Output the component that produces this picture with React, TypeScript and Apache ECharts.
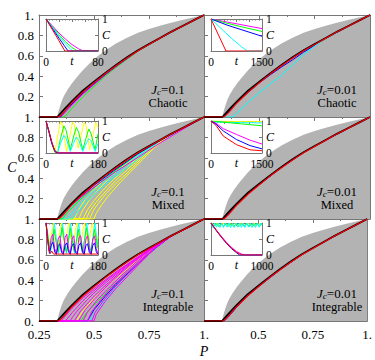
import React, { useEffect, useRef } from 'react';
import * as echarts from 'echarts';

type Pt = [number, number];

const FONT = 'Liberation Serif';
const FRAME = '#777777';
const GRAY = '#B3B3B3';
const RED = '#FF0000';
const BLACK = '#000000';
const BLUE = '#0000FF';
const CYAN = '#00FFFF';
const MAGENTA = '#FF00FF';
const GREEN = '#00FF00';
const YELLOW = '#FFFF00';

// ---- tick labels / texts ----
const J_LABELS = ['0.1', '0.01', '0.1', '0.01', '0.1', '0.01'];
const REGIMES = ['Chaotic', 'Chaotic', 'Mixed', 'Mixed', 'Integrable', 'Integrable'];
const INSET_TMAX = [80, 1500, 180, 1500, 180, 1000];

// ---- shared main-panel curves (P, C) ----
const grayBoundary: Pt[] = [[0.3333, 0], [0.335, 0.025], [0.3375, 0.045], [0.34, 0.065], [0.345, 0.1], [0.35, 0.135], [0.355, 0.163], [0.36, 0.19], [0.3675, 0.222], [0.375, 0.25], [0.3825, 0.276], [0.39, 0.3], [0.4, 0.33], [0.42, 0.385], [0.45, 0.46], [0.475, 0.515], [0.5, 0.565], [0.525, 0.61], [0.55, 0.65], [0.575, 0.687], [0.6, 0.72], [0.65, 0.778], [0.7, 0.825], [0.75, 0.863], [0.8, 0.895], [0.85, 0.923], [0.9, 0.95], [0.95, 0.975], [1, 1]];
const blackCurve: Pt[] = [[0.25, 0], [0.333, 0], [0.35, 0.04], [0.375, 0.1], [0.4, 0.155], [0.45, 0.26], [0.5, 0.345], [0.55, 0.43], [0.6, 0.51], [0.65, 0.585], [0.7, 0.655], [0.75, 0.715], [0.8, 0.775], [0.85, 0.835], [0.9, 0.89], [0.95, 0.945], [1, 1]];
const redCurve: Pt[] = [[0.25, 0], [0.34, 0], [0.36, 0.04], [0.4, 0.14], [0.45, 0.245], [0.5, 0.335], [0.55, 0.423], [0.6, 0.503], [0.65, 0.578], [0.7, 0.65], [0.75, 0.711], [0.8, 0.772], [0.85, 0.833], [0.9, 0.888], [0.95, 0.944], [1, 1]];

// ---- panel A: chaotic, Jc = 0.1 ----
const aCyan: Pt[] = [[0.25, 0], [0.342, 0], [0.36, 0.04], [0.4, 0.14], [0.45, 0.245], [0.5, 0.335], [0.55, 0.422], [0.6, 0.503], [0.7, 0.652], [0.8, 0.773], [0.9, 0.889], [1, 1]];
const aBlue: Pt[] = [[0.25, 0], [0.345, 0], [0.37, 0.06], [0.4, 0.128], [0.45, 0.235], [0.5, 0.327], [0.55, 0.416], [0.6, 0.498], [0.7, 0.65], [0.8, 0.772], [0.9, 0.888], [1, 1]];
const aMagenta: Pt[] = [[0.25, 0], [0.35, 0], [0.375, 0.06], [0.4, 0.115], [0.45, 0.225], [0.5, 0.318], [0.55, 0.41], [0.6, 0.494], [0.7, 0.648], [0.8, 0.771], [0.9, 0.888], [1, 1]];
const aGreen: Pt[] = [[0.25, 0], [0.365, 0], [0.38, 0.035], [0.4, 0.085], [0.45, 0.2], [0.5, 0.3], [0.55, 0.398], [0.6, 0.486], [0.7, 0.645], [0.8, 0.77], [0.9, 0.887], [1, 1]];

// ---- panel B: chaotic, Jc = 0.01 ----
const bCyan: Pt[] = [[0.25, 0], [0.382, 0], [0.4, 0.04], [0.45, 0.145], [0.5, 0.24], [0.55, 0.325], [0.6, 0.41], [0.65, 0.51], [0.7, 0.61], [0.75, 0.695], [0.8, 0.77], [0.9, 0.887], [1, 1]];
const bBlue: Pt[] = [[0.25, 0], [0.338, 0], [0.4, 0.148], [0.5, 0.335], [0.55, 0.415], [0.6, 0.49], [0.65, 0.56], [0.7, 0.635], [0.8, 0.771], [0.9, 0.888], [1, 1]];
const bGreen: Pt[] = [[0.25, 0], [0.336, 0], [0.4, 0.152], [0.5, 0.342], [0.6, 0.508], [0.7, 0.653], [0.8, 0.774], [0.9, 0.889], [1, 1]];
const bMagenta: Pt[] = [[0.25, 0], [0.335, 0], [0.4, 0.154], [0.5, 0.344], [0.6, 0.51], [0.7, 0.654], [0.8, 0.775], [0.9, 0.89], [1, 1]];

// ---- panel C: mixed, Jc = 0.1 ----
const cYellow1: Pt[] = [[0.25, 0], [0.41, 0], [0.43, 0.09], [0.46, 0.19], [0.5, 0.29], [0.55, 0.39], [0.6, 0.48], [0.65, 0.565], [0.7, 0.64], [0.8, 0.771], [0.9, 0.888], [1, 1]];
const cYellow2: Pt[] = [[0.25, 0], [0.43, 0], [0.45, 0.09], [0.48, 0.19], [0.52, 0.29], [0.57, 0.4], [0.62, 0.5], [0.67, 0.58], [0.72, 0.66], [0.8, 0.77], [0.9, 0.888], [1, 1]];
const cYellow3: Pt[] = [[0.25, 0], [0.45, 0], [0.47, 0.09], [0.5, 0.18], [0.54, 0.28], [0.59, 0.39], [0.64, 0.49], [0.69, 0.58], [0.74, 0.675], [0.8, 0.769], [0.9, 0.887], [1, 1]];
const cYellow4: Pt[] = [[0.25, 0], [0.465, 0], [0.48, 0.075], [0.51, 0.165], [0.55, 0.265], [0.6, 0.38], [0.65, 0.48], [0.7, 0.58], [0.75, 0.68], [0.8, 0.767], [0.9, 0.887], [1, 1]];
const cYellow5: Pt[] = [[0.25, 0], [0.48, 0], [0.495, 0.075], [0.52, 0.155], [0.56, 0.26], [0.61, 0.37], [0.66, 0.47], [0.71, 0.58], [0.76, 0.685], [0.82, 0.79], [0.9, 0.886], [1, 1]];
const cYellow6: Pt[] = [[0.25, 0], [0.5, 0], [0.51, 0.055], [0.535, 0.14], [0.57, 0.24], [0.62, 0.36], [0.67, 0.47], [0.72, 0.58], [0.77, 0.69], [0.83, 0.8], [0.9, 0.886], [1, 1]];
const cCyan1: Pt[] = [[0.25, 0], [0.36, 0], [0.38, 0.065], [0.4, 0.12], [0.45, 0.225], [0.5, 0.31], [0.55, 0.4], [0.6, 0.48], [0.65, 0.555], [0.7, 0.63], [0.8, 0.77], [0.9, 0.888], [1, 1]];
const cCyan2: Pt[] = [[0.25, 0], [0.38, 0], [0.4, 0.055], [0.44, 0.155], [0.49, 0.26], [0.54, 0.355], [0.6, 0.45], [0.66, 0.55], [0.72, 0.645], [0.8, 0.769], [0.9, 0.888], [1, 1]];
const cCyan3: Pt[] = [[0.25, 0], [0.4, 0], [0.42, 0.055], [0.46, 0.155], [0.51, 0.26], [0.56, 0.355], [0.62, 0.455], [0.68, 0.555], [0.74, 0.655], [0.8, 0.767], [0.9, 0.887], [1, 1]];
const cGreen1: Pt[] = [[0.25, 0], [0.338, 0], [0.4, 0.15], [0.45, 0.255], [0.5, 0.34], [0.55, 0.425], [0.6, 0.505], [0.7, 0.652], [0.8, 0.774], [0.9, 0.889], [1, 1]];
const cGreen2: Pt[] = [[0.25, 0], [0.355, 0], [0.38, 0.065], [0.4, 0.11], [0.45, 0.215], [0.5, 0.305], [0.55, 0.395], [0.6, 0.478], [0.7, 0.64], [0.8, 0.77], [0.9, 0.887], [1, 1]];
const cMagenta: Pt[] = [[0.25, 0], [0.337, 0], [0.4, 0.14], [0.45, 0.23], [0.5, 0.31], [0.55, 0.39], [0.6, 0.465], [0.65, 0.535], [0.7, 0.605], [0.75, 0.675], [0.8, 0.745], [0.9, 0.875], [1, 1]];
const cBlue: Pt[] = [[0.25, 0], [0.336, 0], [0.4, 0.148], [0.5, 0.33], [0.6, 0.49], [0.7, 0.64], [0.8, 0.768], [0.9, 0.887], [1, 1]];

// ---- panel D: mixed, Jc = 0.01 ----
const dBlue: Pt[] = [[0.25, 0], [0.337, 0], [0.36, 0.05], [0.4, 0.145], [0.45, 0.25], [0.5, 0.337], [0.6, 0.505], [0.7, 0.652], [0.8, 0.774], [0.9, 0.889], [1, 1]];
const dMagenta: Pt[] = [[0.25, 0], [0.336, 0], [0.4, 0.152], [0.5, 0.342], [0.6, 0.508], [0.7, 0.653], [0.8, 0.774], [0.9, 0.889], [1, 1]];

// ---- panel E: integrable, Jc = 0.1 ----
const eYellow: Pt[] = [[0.25, 0], [0.42, 0], [0.45, 0.1], [0.5, 0.22], [0.56, 0.345], [0.63, 0.475], [0.7, 0.6], [0.77, 0.71], [0.85, 0.83], [0.9, 0.887], [1, 1]];
const eGreen: Pt[] = [[0.25, 0], [0.44, 0], [0.47, 0.09], [0.52, 0.2], [0.58, 0.335], [0.65, 0.475], [0.72, 0.61], [0.78, 0.72], [0.85, 0.83], [0.9, 0.887], [1, 1]];
const eCyan: Pt[] = [[0.25, 0], [0.48, 0], [0.5, 0.07], [0.55, 0.2], [0.61, 0.36], [0.68, 0.52], [0.75, 0.66], [0.8, 0.755], [0.85, 0.83], [0.9, 0.887], [1, 1]];
const eBlue: Pt[] = [[0.25, 0], [0.47, 0], [0.5, 0.11], [0.55, 0.24], [0.6, 0.36], [0.66, 0.48], [0.72, 0.6], [0.78, 0.715], [0.85, 0.83], [0.9, 0.887], [1, 1]];
const eMagenta1: Pt[] = [[0.25, 0], [0.35, 0], [0.4, 0.125], [0.45, 0.228], [0.5, 0.315], [0.55, 0.4], [0.6, 0.48], [0.65, 0.555], [0.7, 0.628], [0.75, 0.7], [0.85, 0.83], [0.9, 0.887], [1, 1]];
const eMagenta2: Pt[] = [[0.25, 0], [0.37, 0], [0.4, 0.08], [0.45, 0.2], [0.5, 0.298], [0.55, 0.388], [0.6, 0.47], [0.65, 0.55], [0.7, 0.623], [0.75, 0.697], [0.85, 0.83], [0.9, 0.887], [1, 1]];
const eMagenta3: Pt[] = [[0.25, 0], [0.39, 0], [0.42, 0.09], [0.47, 0.21], [0.52, 0.315], [0.57, 0.405], [0.62, 0.49], [0.68, 0.595], [0.75, 0.695], [0.85, 0.83], [0.9, 0.887], [1, 1]];
const eMagenta4: Pt[] = [[0.25, 0], [0.41, 0], [0.44, 0.1], [0.49, 0.22], [0.54, 0.325], [0.6, 0.44], [0.66, 0.55], [0.75, 0.693], [0.85, 0.83], [0.9, 0.887], [1, 1]];
const eMagenta5: Pt[] = [[0.25, 0], [0.43, 0], [0.46, 0.11], [0.5, 0.21], [0.55, 0.325], [0.61, 0.445], [0.68, 0.575], [0.75, 0.69], [0.85, 0.83], [0.9, 0.887], [1, 1]];
const eMagenta6: Pt[] = [[0.25, 0], [0.45, 0], [0.47, 0.085], [0.51, 0.195], [0.56, 0.31], [0.62, 0.435], [0.69, 0.575], [0.76, 0.7], [0.85, 0.83], [0.9, 0.887], [1, 1]];
const eMagenta7: Pt[] = [[0.25, 0], [0.47, 0], [0.49, 0.095], [0.53, 0.205], [0.58, 0.33], [0.64, 0.455], [0.7, 0.575], [0.77, 0.71], [0.85, 0.83], [0.9, 0.887], [1, 1]];
const eMagenta8: Pt[] = [[0.25, 0], [0.49, 0], [0.505, 0.085], [0.54, 0.19], [0.59, 0.32], [0.65, 0.455], [0.71, 0.58], [0.78, 0.72], [0.85, 0.83], [0.9, 0.887], [1, 1]];
const eMagenta9: Pt[] = [[0.25, 0], [0.5, 0], [0.51, 0.065], [0.55, 0.19], [0.6, 0.32], [0.66, 0.455], [0.72, 0.59], [0.78, 0.72], [0.85, 0.83], [0.9, 0.887], [1, 1]];

// ---- panel F: integrable, Jc = 0.01 ----
const fBlue: Pt[] = [[0.25, 0], [0.342, 0], [0.36, 0.035], [0.4, 0.135], [0.45, 0.245], [0.5, 0.335], [0.6, 0.502], [0.7, 0.651], [0.8, 0.773], [0.9, 0.889], [1, 1]];
const fMagenta: Pt[] = [[0.25, 0], [0.338, 0], [0.4, 0.148], [0.5, 0.34], [0.6, 0.506], [0.7, 0.652], [0.8, 0.774], [0.9, 0.889], [1, 1]];

// ---- insets (t, C) ----
const iaMagenta: Pt[] = [[0, 1], [10, 0.78], [20, 0.56], [30, 0.37], [40, 0.2], [50, 0.07], [57, 0], [80, 0]];
const iaGreen: Pt[] = [[0, 1], [10, 0.75], [20, 0.51], [30, 0.29], [40, 0.11], [47, 0.02], [50, 0], [80, 0]];
const iaCyan: Pt[] = [[0, 1], [10, 0.73], [20, 0.46], [30, 0.22], [38, 0.05], [42, 0], [80, 0]];
const iaBlue: Pt[] = [[0, 1], [10, 0.7], [20, 0.4], [28, 0.17], [34, 0], [80, 0]];
const iaRed: Pt[] = [[0, 1], [10, 0.66], [20, 0.32], [29, 0], [80, 0]];

const ibMagenta: Pt[] = [[0, 1], [500, 0.9], [1000, 0.8], [1500, 0.7]];
const ibGreen: Pt[] = [[0, 1], [500, 0.86], [1000, 0.73], [1500, 0.61]];
const ibBlue: Pt[] = [[0, 1], [500, 0.8], [1000, 0.63], [1500, 0.46]];
const ibCyan: Pt[] = [[0, 1], [300, 0.7], [600, 0.4], [900, 0.13], [1070, 0], [1500, 0]];
const ibRed: Pt[] = [[0, 1], [440, 0], [1500, 0]];

const icYellow: Pt[] = [[0, 1], [10, 0.7], [20, 0.33], [30, 0], [40, 0.5], [50, 0.97], [55, 0.95], [63, 0.5], [71, 0.05], [80, 0.4], [92, 0.97], [98, 0.9], [105, 0.5], [111, 0.15], [120, 0.5], [132, 0.95], [138, 0.9], [145, 0.5], [151, 0.1], [160, 0.45], [172, 0.95], [180, 0.8]];
const icGreen: Pt[] = [[0, 1], [10, 0.68], [20, 0.32], [30, 0.05], [40, 0], [50, 0.45], [62, 0.85], [70, 0.7], [84, 0.1], [95, 0.5], [105, 0.8], [113, 0.65], [127, 0.1], [138, 0.45], [148, 0.75], [156, 0.6], [170, 0.1], [180, 0.6]];
const icCyan: Pt[] = [[0, 1], [10, 0.68], [20, 0.32], [30, 0.05], [40, 0], [50, 0.3], [62, 0.55], [70, 0.45], [84, 0.05], [95, 0.3], [105, 0.5], [113, 0.4], [127, 0.05], [138, 0.28], [148, 0.45], [156, 0.38], [170, 0.05], [180, 0.3]];
const icMagenta: Pt[] = [[0, 1], [10, 0.68], [20, 0.32], [30, 0.07], [40, 0], [180, 0]];
const icBlue: Pt[] = [[0, 1], [10, 0.67], [20, 0.3], [32, 0.03], [40, 0], [180, 0]];
const icRed: Pt[] = [[0, 1], [10, 0.68], [20, 0.35], [30, 0.08], [42, 0], [180, 0]];

const idYellow: Pt[] = [[0, 1], [500, 0.99], [1000, 0.98], [1500, 0.98]];
const idCyan: Pt[] = [[0, 1], [150, 0.96], [300, 0.97], [450, 0.95], [600, 0.96], [750, 0.95], [900, 0.96], [1050, 0.94], [1200, 0.95], [1350, 0.94], [1500, 0.94]];
const idGreen: Pt[] = [[0, 1], [300, 0.97], [600, 0.94], [900, 0.91], [1200, 0.88], [1500, 0.85]];
const idMagenta: Pt[] = [[0, 1], [150, 0.93], [360, 0.76], [750, 0.58], [1150, 0.4], [1500, 0.28]];
const idBlue: Pt[] = [[0, 1], [150, 0.9], [360, 0.69], [750, 0.42], [1150, 0.23], [1500, 0.13]];
const idRed: Pt[] = [[0, 1], [150, 0.86], [360, 0.53], [750, 0.26], [1150, 0.1], [1500, 0.07]];

const ieYellow: Pt[] = [[0, 1], [8, 0.6], [14, 0.3], [20, 0.7], [26, 1], [33, 0.5], [40, 0.2], [47, 0.7], [53, 1], [60, 0.55], [67, 0.3], [74, 0.8], [80, 1], [87, 0.5], [94, 0.25], [101, 0.75], [107, 1], [114, 0.5], [121, 0.3], [128, 0.8], [134, 1], [141, 0.5], [148, 0.3], [155, 0.8], [161, 1], [168, 0.5], [175, 0.3], [180, 0.6]];
const ieCyan: Pt[] = [[0, 1], [8, 0.5], [15, 0.05], [22, 0.5], [29, 1], [36, 0.5], [43, 0.05], [50, 0.5], [57, 1], [64, 0.45], [71, 0.05], [78, 0.5], [85, 1], [92, 0.5], [99, 0.05], [106, 0.5], [113, 1], [120, 0.5], [127, 0.05], [134, 0.5], [141, 1], [148, 0.5], [155, 0.05], [162, 0.5], [169, 1], [176, 0.5], [180, 0.3]];
const ieGreen: Pt[] = [[0, 1], [7, 0.55], [14, 0.15], [21, 0.4], [28, 0.8], [35, 0.4], [42, 0.1], [49, 0.45], [56, 0.85], [63, 0.45], [70, 0.1], [77, 0.4], [84, 0.85], [91, 0.45], [98, 0.1], [105, 0.4], [112, 0.8], [119, 0.4], [126, 0.1], [133, 0.45], [140, 0.85], [147, 0.45], [154, 0.1], [161, 0.4], [168, 0.8], [175, 0.4], [180, 0.2]];
const ieMagenta: Pt[] = [[0, 1], [6, 0.5], [12, 0.1], [18, 0.55], [24, 0.65], [30, 0.2], [36, 0.05], [42, 0.5], [48, 0.6], [54, 0.15], [60, 0.05], [66, 0.55], [72, 0.65], [78, 0.2], [84, 0.05], [90, 0.5], [96, 0.6], [102, 0.15], [108, 0.05], [114, 0.55], [120, 0.6], [126, 0.2], [132, 0.05], [138, 0.5], [144, 0.6], [150, 0.15], [156, 0.05], [162, 0.5], [168, 0.6], [174, 0.2], [180, 0.05]];
const ieBlue: Pt[] = [[0, 1], [6, 0.45], [12, 0.05], [18, 0.3], [24, 0.4], [30, 0.1], [36, 0.02], [42, 0.3], [48, 0.35], [54, 0.08], [60, 0.02], [66, 0.3], [72, 0.38], [78, 0.1], [84, 0.02], [90, 0.3], [96, 0.35], [102, 0.08], [108, 0.02], [114, 0.3], [120, 0.38], [126, 0.1], [132, 0.02], [138, 0.3], [144, 0.35], [150, 0.08], [156, 0.02], [162, 0.3], [168, 0.38], [174, 0.1], [180, 0.02]];
const ieRed: Pt[] = [[0, 1], [5, 0.55], [10, 0.15], [15, 0.05], [20, 0.12], [26, 0.03], [180, 0.03]];

const ifCyan: Pt[] = [[0, 1], [35, 0.86], [70, 1], [105, 0.87], [140, 1], [175, 0.86], [210, 0.99], [245, 0.86], [280, 1], [315, 0.87], [350, 1], [385, 0.86], [420, 0.99], [455, 0.86], [490, 1], [525, 0.87], [560, 1], [595, 0.86], [630, 0.99], [665, 0.86], [700, 1], [735, 0.87], [770, 1], [805, 0.86], [840, 0.99], [875, 0.86], [910, 1], [945, 0.87], [980, 1], [1000, 0.93]];
const ifGreen: Pt[] = [[0, 1], [50, 0.9], [100, 0.98], [150, 0.89], [200, 0.97], [250, 0.9], [300, 0.98], [350, 0.89], [400, 0.97], [450, 0.9], [500, 0.98], [550, 0.89], [600, 0.97], [650, 0.9], [700, 0.98], [750, 0.89], [800, 0.97], [850, 0.9], [900, 0.98], [950, 0.89], [1000, 0.96]];
const ifYellow: Pt[] = [[0, 1], [60, 0.93], [120, 0.99], [180, 0.93], [240, 0.99], [300, 0.93], [360, 0.99], [420, 0.93], [480, 0.99], [540, 0.93], [600, 0.99], [660, 0.93], [720, 0.99], [780, 0.93], [840, 0.99], [900, 0.93], [960, 0.99], [1000, 0.95]];
const ifMagenta: Pt[] = [[0, 1], [100, 0.79], [200, 0.59], [300, 0.4], [400, 0.24], [500, 0.11], [600, 0.03], [660, 0], [1000, 0]];
const ifBlue: Pt[] = [[0, 1], [100, 0.77], [200, 0.56], [300, 0.37], [400, 0.2], [500, 0.07], [560, 0], [1000, 0]];
const ifRed: Pt[] = [[0, 1], [100, 0.78], [200, 0.57], [300, 0.38], [400, 0.22], [500, 0.09], [580, 0.01], [620, 0], [1000, 0]];

type Curve = [Pt[], string];
const PANEL_CURVES: Curve[][] = [
  [[aGreen, GREEN], [aMagenta, MAGENTA], [aBlue, BLUE], [aCyan, CYAN]],
  [[bMagenta, MAGENTA], [bGreen, GREEN], [bBlue, BLUE], [bCyan, CYAN]],
  [[cYellow1, YELLOW], [cYellow2, YELLOW], [cYellow3, YELLOW], [cYellow4, YELLOW], [cYellow5, YELLOW], [cYellow6, YELLOW], [cCyan1, CYAN], [cCyan2, CYAN], [cCyan3, CYAN], [cGreen2, GREEN], [cGreen1, GREEN], [cBlue, BLUE], [cMagenta, MAGENTA]],
  [[dBlue, BLUE], [dMagenta, MAGENTA]],
  [[eYellow, YELLOW], [eGreen, GREEN], [eCyan, CYAN], [eBlue, BLUE], [eMagenta9, MAGENTA], [eMagenta8, MAGENTA], [eMagenta7, MAGENTA], [eMagenta6, MAGENTA], [eMagenta5, MAGENTA], [eMagenta4, MAGENTA], [eMagenta3, MAGENTA], [eMagenta2, MAGENTA], [eMagenta1, MAGENTA]],
  [[fBlue, BLUE], [fMagenta, MAGENTA]],
];
const INSET_CURVES: Curve[][] = [
  [[iaMagenta, MAGENTA], [iaGreen, GREEN], [iaCyan, CYAN], [iaBlue, BLUE], [iaRed, RED]],
  [[ibMagenta, MAGENTA], [ibGreen, GREEN], [ibBlue, BLUE], [ibCyan, CYAN], [ibRed, RED]],
  [[icYellow, YELLOW], [icGreen, GREEN], [icCyan, CYAN], [icMagenta, MAGENTA], [icBlue, BLUE], [icRed, RED]],
  [[idYellow, YELLOW], [idCyan, CYAN], [idGreen, GREEN], [idMagenta, MAGENTA], [idBlue, BLUE], [idRed, RED]],
  [[ieYellow, YELLOW], [ieCyan, CYAN], [ieGreen, GREEN], [ieMagenta, MAGENTA], [ieBlue, BLUE], [ieRed, RED]],
  [[ifYellow, YELLOW], [ifGreen, GREEN], [ifCyan, CYAN], [ifMagenta, MAGENTA], [ifBlue, BLUE], [ifRed, RED]],
];

const ROW_TOP = [15, 117, 219];
const PANEL_H = 102;

function buildOption() {
  const grid: any[] = [];
  const xAxis: any[] = [];
  const yAxis: any[] = [];
  const series: any[] = [];
  const graphic: any[] = [];
  const lbl = { color: '#000', fontFamily: FONT, fontSize: 13, lineHeight: 13 };
  const ilbl = { color: '#000', fontFamily: FONT, fontSize: 11.5 };
  const lineS = { show: true, onZero: false, lineStyle: { color: FRAME, width: 1 } };
  const tickS = (len: number) => ({ show: true, inside: true, length: len, lineStyle: { color: FRAME, width: 1 } });
  const r2 = (v: number) => +Number(v).toFixed(3);
  const txt = (x: number, y: number, text: string, size: number, italic: boolean) => ({
    type: 'text', x, y, z: 10,
    style: { text, align: 'center', verticalAlign: 'middle', fontFamily: FONT, fontSize: size, fontStyle: italic ? 'italic' : 'normal', fill: '#000' },
  });

  for (let g = 0; g < 6; g++) {
    const r = Math.floor(g / 2);
    const c = g % 2;
    const left = c === 0 ? 39 : 204;
    const width = c === 0 ? 165 : 166;
    const top = ROW_TOP[r];
    grid.push({ left, top, width, height: PANEL_H, show: false });
    const gi = grid.length - 1;
    const xb = xAxis.length;
    xAxis.push({
      gridIndex: gi, type: 'value', min: 0.25, max: 1, interval: 0.25, position: 'bottom',
      axisLine: lineS, axisTick: tickS(4),
      minorTick: { show: true, splitNumber: 2, length: 2, lineStyle: { color: FRAME } },
      splitLine: { show: false },
      axisLabel: {
        show: r === 2, ...lbl, margin: 7,
        formatter: (v: number) => { const s = r2(v); if (c === 1 && s === 0.25) return ''; return s === 1 ? '1.' : String(s); },
      },
    });
    xAxis.push({
      gridIndex: gi, type: 'value', min: 0.25, max: 1, interval: 0.25, position: 'top',
      axisLine: lineS, axisTick: tickS(4),
      minorTick: { show: true, splitNumber: 2, length: 2, lineStyle: { color: FRAME } },
      splitLine: { show: false }, axisLabel: { show: false },
    });
    const yb = yAxis.length;
    yAxis.push({
      gridIndex: gi, type: 'value', min: 0, max: 1, interval: 0.2, position: 'left',
      axisLine: lineS, axisTick: tickS(4), splitLine: { show: false },
      axisLabel: {
        show: c === 0, ...lbl, margin: 5,
        formatter: (v: number) => { const s = r2(v); if (s === 1) return '1.'; if (s === 0) return r === 2 ? '0.' : ''; return String(s); },
      },
    });
    yAxis.push({
      gridIndex: gi, type: 'value', min: 0, max: 1, interval: 0.2, position: 'right',
      axisLine: lineS, axisTick: tickS(4), splitLine: { show: false }, axisLabel: { show: false },
    });

    series.push({
      type: 'line', xAxisIndex: xb, yAxisIndex: yb, data: grayBoundary, symbol: 'none', silent: true,
      lineStyle: { width: 0, color: GRAY }, areaStyle: { color: GRAY, opacity: 1 }, z: 1,
    });
    PANEL_CURVES[g].forEach(([data, color]) => {
      series.push({ type: 'line', xAxisIndex: xb, yAxisIndex: yb, data, symbol: 'none', silent: true, lineStyle: { width: 1, color }, z: 2 });
    });
    series.push({ type: 'line', xAxisIndex: xb, yAxisIndex: yb, data: blackCurve, symbol: 'none', silent: true, lineStyle: { width: 1.8, color: BLACK }, z: 3 });
    series.push({ type: 'line', xAxisIndex: xb, yAxisIndex: yb, data: redCurve, symbol: 'none', silent: true, lineStyle: { width: 1.2, color: RED }, z: 4 });

    // inset
    const T = INSET_TMAX[g];
    const ileft = c === 0 ? 46 : 211;
    const iw = c === 0 ? 52 : 51;
    const itop = top + 4;
    grid.push({ left: ileft, top: itop, width: iw, height: 32, show: true, backgroundColor: '#fff', borderWidth: 0, z: 5 });
    const ig = grid.length - 1;
    const ixb = xAxis.length;
    xAxis.push({
      gridIndex: ig, type: 'value', min: 0, max: T, interval: T, position: 'bottom', z: 6,
      axisLine: lineS, axisTick: { show: false }, splitLine: { show: false },
      axisLabel: { ...ilbl, margin: 5, lineHeight: 11, formatter: (v: number) => String(v) },
    });
    xAxis.push({
      gridIndex: ig, type: 'value', min: 0, max: T, interval: T / 4, position: 'top', z: 6,
      axisLine: lineS, axisTick: tickS(3),
      minorTick: { show: true, splitNumber: 4, length: 1.5, lineStyle: { color: FRAME } },
      splitLine: { show: false }, axisLabel: { show: false },
    });
    const iyb = yAxis.length;
    yAxis.push({
      gridIndex: ig, type: 'value', min: 0, max: 1, interval: 1, position: 'right', z: 6,
      axisLine: lineS, axisTick: tickS(3),
      minorTick: { show: true, splitNumber: 2, length: 3, lineStyle: { color: FRAME } },
      splitLine: { show: false },
      axisLabel: { ...ilbl, margin: 4, lineHeight: 10, formatter: (v: number) => String(v) },
    });
    yAxis.push({
      gridIndex: ig, type: 'value', min: 0, max: 1, interval: 1, position: 'left', z: 6,
      axisLine: lineS, axisTick: { show: false }, splitLine: { show: false }, axisLabel: { show: false },
    });
    INSET_CURVES[g].forEach(([data, color]) => {
      series.push({ type: 'line', xAxisIndex: ixb, yAxisIndex: iyb, data, symbol: 'none', silent: true, lineStyle: { width: 1, color }, z: 7 });
    });
    graphic.push(txt(ileft + iw / 2, itop + 32 + 10, 't', 12, true));
    graphic.push(txt(ileft + iw + 8, itop + 16, 'C', 12, true));

    // panel labels
    const cx = c === 0 ? 168 : 337;
    graphic.push({
      type: 'text', x: cx, y: top + 74, z: 10,
      style: {
        text: '{i|J}{s|c}{n|=' + J_LABELS[g] + '}',
        align: 'center', verticalAlign: 'middle',
        rich: {
          i: { fontFamily: FONT, fontSize: 13, fontStyle: 'italic', fill: '#000' },
          s: { fontFamily: FONT, fontSize: 9, fontStyle: 'italic', fill: '#000', padding: [6, 0, 0, 0] },
          n: { fontFamily: FONT, fontSize: 13, fill: '#000' },
        },
      },
    });
    graphic.push(txt(cx, top + 88, REGIMES[g], 12.5, false));
  }

  graphic.push(txt(12, 167, 'C', 14, true));
  graphic.push(txt(204, 351, 'P', 14, true));

  return { animation: false, backgroundColor: '#fff', grid, xAxis, yAxis, series, graphic };
}

export default function App() {
  const ref = useRef<HTMLDivElement>(null);
  useEffect(() => {
    if (!ref.current) return;
    const chart = echarts.init(ref.current, undefined, { renderer: 'svg' });
    chart.setOption(buildOption() as any);
    return () => chart.dispose();
  }, []);
  return <div ref={ref} style={{ position: 'fixed', left: 0, top: 0, width: 375, height: 360, background: '#fff' }} />;
}
